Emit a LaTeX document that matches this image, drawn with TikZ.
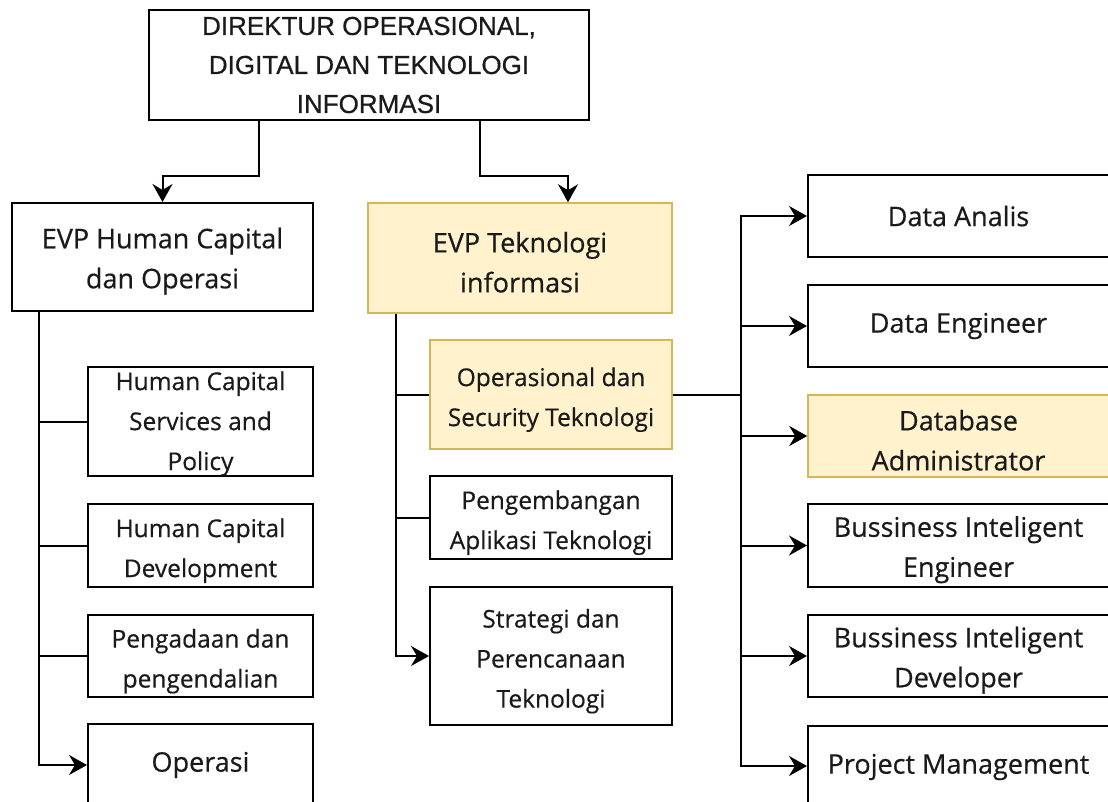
\documentclass[tikz,border=0pt]{standalone}
\usepackage{fontspec}
\setmainfont{Open Sans}[FakeBold=0.5]
\newfontfamily\topfont{Liberation Sans}[FakeBold=0.6]
\usetikzlibrary{arrows.meta}
\definecolor{yfill}{HTML}{FFF2CC}
\definecolor{yborder}{HTML}{D6B656}
\definecolor{txt}{HTML}{1A1A1A}
\newcommand\tstrut{\rule{0pt}{29pt}}
\newcommand\sstrut{\rule{0pt}{23pt}}
\tikzset{
  box/.style={draw=black, line width=2pt, fill=white, inner sep=0pt, align=center,
    text=txt, font=\fontsize{24.5}{40}\selectfont},
  bigbox/.style={box, font=\fontsize{27}{40}\selectfont},
  topbox/.style={box, font=\topfont\fontsize{26}{39}\selectfont},
  ybox/.style={fill=yfill, draw=yborder, line width=1.5pt},
  conn/.style={line width=2pt, draw=black},
  arr/.style={conn, -{Stealth[length=18pt,width=20pt,inset=6pt]}},
}
\begin{document}
\begin{tikzpicture}[x=1pt,y=-1pt]
\useasboundingbox (0,0) rectangle (1108,802);
\clip (0,0) rectangle (1108,802);
\fill[white] (0,0) rectangle (1108,802);
% top
\node[topbox, minimum width=440pt, minimum height=110pt] (top) at (369,65)
  {DIREKTUR OPERASIONAL,\\DIGITAL DAN TEKNOLOGI\\INFORMASI};
% left branch
\node[bigbox, minimum width=301pt, minimum height=108pt] (hc) at (162.5,257)
  {\tstrut EVP Human Capital\\dan Operasi};
\node[box, minimum width=225pt, minimum height=109pt] (hcs) at (200.5,421.5)
  {\sstrut Human Capital\\Services and\\Policy};
\node[box, minimum width=225pt, minimum height=83pt] (hcd) at (200.5,545.5)
  {\tstrut Human Capital\\Development};
\node[box, minimum width=225pt, minimum height=82pt] (peng) at (200.5,656)
  {\tstrut Pengadaan dan\\pengendalian};
\node[bigbox, minimum width=225pt, minimum height=82pt] (opr) at (200.5,765)
  {Operasi};
% middle branch
\node[bigbox, ybox, minimum width=304pt, minimum height=110pt] (ti) at (520,258)
  {\tstrut EVP Teknologi\\informasi};
\node[box, ybox, minimum width=242pt, minimum height=109pt] (osec) at (551,394.5)
  {\tstrut Operasional dan\\Security Teknologi};
\node[box, minimum width=242pt, minimum height=83pt] (pat) at (551,517.5)
  {\tstrut Pengembangan\\Aplikasi Teknologi};
\node[box, minimum width=242pt, minimum height=138pt] (spt) at (551,656)
  {\tstrut Strategi dan\\Perencanaan\\Teknologi};
% right column
\node[bigbox, minimum width=301pt, minimum height=82pt] (da) at (958.5,216) {Data Analis};
\node[bigbox, minimum width=301pt, minimum height=82pt] (de) at (958.5,326) {Data Engineer};
\node[bigbox, ybox, minimum width=301pt, minimum height=82pt] (dba) at (958.5,436) {\tstrut Database\\Administrator};
\node[bigbox, minimum width=301pt, minimum height=83pt] (bie) at (958.5,545.5) {\tstrut Bussiness Inteligent\\Engineer};
\node[bigbox, minimum width=301pt, minimum height=82pt] (bid) at (958.5,656) {\tstrut Bussiness Inteligent\\Developer};
\node[bigbox, minimum width=301pt, minimum height=82pt] (pm) at (958.5,767) {Project Management};
% connectors from top
\draw[arr] ([xshift=-110pt]top.south) -- ++(0,55) -| (hc.north);
\draw[arr] ([xshift=111pt]top.south) -- ++(0,55) -| ([xshift=48pt]ti.north);
% left trunk
\draw[conn] ([xshift=28pt]hc.south west) |- (hcs.west);
\draw[conn] ([xshift=28pt]hc.south west) |- (hcd.west);
\draw[conn] ([xshift=28pt]hc.south west) |- (peng.west);
\draw[arr] ([xshift=28pt]hc.south west) |- (opr.west);
% middle trunk
\draw[conn] ([xshift=29pt]ti.south west) |- (osec.west);
\draw[conn] ([xshift=29pt]ti.south west) |- (pat.west);
\draw[arr] ([xshift=29pt]ti.south west) |- (spt.west);
% right trunk
\draw[arr] (osec.east) -- ++(68,0) |- (da.west);
\draw[arr] (osec.east) -- ++(68,0) |- (de.west);
\draw[arr] (osec.east) -- ++(68,0) |- (dba.west);
\draw[arr] (osec.east) -- ++(68,0) |- (bie.west);
\draw[arr] (osec.east) -- ++(68,0) |- (bid.west);
\draw[arr] (osec.east) -- ++(68,0) |- ([yshift=1pt]pm.west);
\end{tikzpicture}
\end{document}
